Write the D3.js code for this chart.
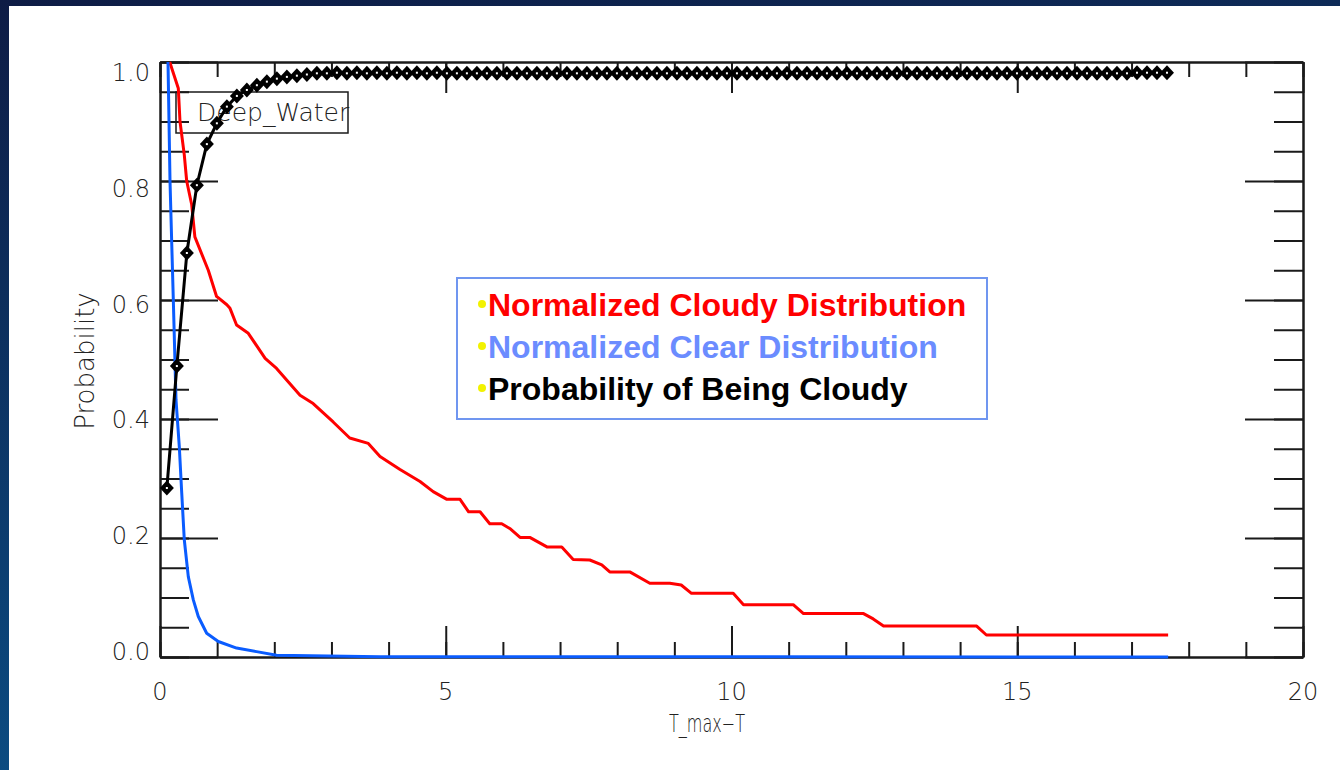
<!DOCTYPE html>
<html>
<head>
<meta charset="utf-8">
<script src="https://cdn.jsdelivr.net/npm/d3@7"></script>
<style>
  body { margin: 0; overflow: hidden; background: #0b2350; }
</style>
</head>
<body>
<script>
// values
const xMajorTicks = [0, 5, 10, 15, 20];
const xMinorTicks = d3.range(0, 21, 1);
const yMajorTicks = [0, 0.2, 0.4, 0.6, 0.8, 1.0];
const yMinorTicks = d3.range(0, 1.0001, 0.05);
const yTickLabels = ["0.0", "0.2", "0.4", "0.6", "0.8", "1.0"];

// normalized cloudy distribution [T_max-T, value]
const cloudyPts = [
  [0.17, 1.0], [0.32, 0.956], [0.35, 0.9], [0.425, 0.844], [0.467, 0.8], [0.555, 0.76],
  [0.61, 0.706], [0.845, 0.65], [0.99, 0.606], [1.17, 0.592], [1.225, 0.586], [1.34, 0.558],
  [1.545, 0.544], [1.84, 0.502], [2.04, 0.485], [2.45, 0.44], [2.68, 0.426], [3.03, 0.395],
  [3.32, 0.368], [3.645, 0.359], [3.85, 0.337], [4.2, 0.315], [4.55, 0.295], [4.78, 0.278],
  [5.02, 0.265], [5.25, 0.265], [5.40, 0.244], [5.6, 0.244], [5.77, 0.224], [5.98, 0.224],
  [6.12, 0.216], [6.3, 0.201], [6.47, 0.201], [6.77, 0.185], [7.03, 0.185], [7.23, 0.164],
  [7.52, 0.163], [7.73, 0.155], [7.87, 0.143], [8.22, 0.143], [8.57, 0.124], [8.92, 0.124],
  [9.12, 0.121], [9.30, 0.107], [10.03, 0.107], [10.21, 0.088], [11.08, 0.088], [11.26, 0.073],
  [12.31, 0.073], [12.48, 0.064], [12.66, 0.052], [14.29, 0.052], [14.46, 0.037], [17.64, 0.037]
];

// normalized clear distribution
const clearPts = [
  [0.14, 1.0], [0.175, 0.8], [0.233, 0.6], [0.28, 0.432], [0.338, 0.353], [0.38, 0.276],
  [0.425, 0.197], [0.495, 0.135], [0.583, 0.096], [0.67, 0.068], [0.817, 0.04], [1.02, 0.026],
  [1.34, 0.015], [1.69, 0.009], [2.04, 0.003], [3.85, 0.0005], [17.64, 0]
];

// probability of being cloudy, one value per bin
const binStart = 0.12, binStep = 0.175;
const probCloudy = [
  0.284, 0.489, 0.679, 0.793, 0.862, 0.897, 0.925, 0.943, 0.953, 0.961,
  0.967, 0.972, 0.975, 0.977, 0.979, 0.981, 0.981, 0.982, 0.981, 0.982,
  0.981, 0.982, 0.981, 0.982, 0.981, 0.982, 0.981, 0.982, 0.981, 0.981,
  0.981, 0.981, 0.981, 0.981, 0.981, 0.981, 0.981, 0.981, 0.981, 0.981,
  0.981, 0.981, 0.981, 0.981, 0.981, 0.981, 0.981, 0.981, 0.981, 0.981,
  0.981, 0.981, 0.981, 0.981, 0.981, 0.981, 0.981, 0.981, 0.981, 0.981,
  0.981, 0.981, 0.981, 0.981, 0.981, 0.981, 0.981, 0.981, 0.981, 0.981,
  0.981, 0.981, 0.981, 0.981, 0.981, 0.981, 0.981, 0.981, 0.981, 0.981,
  0.981, 0.981, 0.981, 0.981, 0.981, 0.981, 0.981, 0.981, 0.981, 0.981,
  0.981, 0.981, 0.981, 0.981, 0.981, 0.981, 0.981, 0.982, 0.982, 0.982,
  0.982
];

const legendItems = [
  { label: "Normalized Cloudy Distribution", color: "#ff0000" },
  { label: "Normalized Clear Distribution", color: "#6b8cff" },
  { label: "Probability of Being Cloudy", color: "#000000" }
];

const svg = d3.select("body").append("svg")
  .attr("width", 1340)
  .attr("height", 770);

// slide background
const grad = svg.append("defs").append("linearGradient")
  .attr("id", "bg").attr("x1", 0).attr("y1", 0).attr("x2", 0.3).attr("y2", 1);
grad.append("stop").attr("offset", "0%").attr("stop-color", "#0e1c45");
grad.append("stop").attr("offset", "100%").attr("stop-color", "#0b4f86");
svg.append("rect").attr("width", 1340).attr("height", 770).attr("fill", "url(#bg)");
svg.append("rect")
  .attr("x", 9).attr("y", 6)
  .attr("width", 1331).attr("height", 764)
  .attr("fill", "#ffffff");

const x = d3.scaleLinear().domain([0, 20]).range([160, 1303]);
const y = d3.scaleLinear().domain([0, 1]).range([657, 62]);
// the tick labels sit on a slightly tighter scale than the ticks
const yLab = d3.scaleLinear().domain([0, 1]).range([652, 73]);

const axisColor = "#1a1a1a";
function styleAxis(g) {
  g.attr("color", axisColor);
  g.selectAll("text").remove();
  g.selectAll("line, path").attr("stroke-width", 2);
}

// ticks point inwards on all four sides
svg.append("g").attr("transform", `translate(0,${y(0)})`)
  .call(d3.axisBottom(x).tickValues(xMinorTicks).tickSize(-15).tickSizeOuter(0)).call(styleAxis);
svg.append("g").attr("transform", `translate(0,${y(0)})`)
  .call(d3.axisBottom(x).tickValues(xMajorTicks).tickSize(-31).tickSizeOuter(0)).call(styleAxis);
svg.append("g").attr("transform", `translate(0,${y(1)})`)
  .call(d3.axisTop(x).tickValues(xMinorTicks).tickSize(-15).tickSizeOuter(0)).call(styleAxis);
svg.append("g").attr("transform", `translate(0,${y(1)})`)
  .call(d3.axisTop(x).tickValues(xMajorTicks).tickSize(-31).tickSizeOuter(0)).call(styleAxis);
svg.append("g").attr("transform", `translate(${x(0)},0)`)
  .call(d3.axisLeft(y).tickValues(yMinorTicks).tickSize(-29).tickSizeOuter(0)).call(styleAxis);
svg.append("g").attr("transform", `translate(${x(0)},0)`)
  .call(d3.axisLeft(y).tickValues(yMajorTicks).tickSize(-58).tickSizeOuter(0)).call(styleAxis);
svg.append("g").attr("transform", `translate(${x(20)},0)`)
  .call(d3.axisRight(y).tickValues(yMinorTicks).tickSize(-29).tickSizeOuter(0)).call(styleAxis);
svg.append("g").attr("transform", `translate(${x(20)},0)`)
  .call(d3.axisRight(y).tickValues(yMajorTicks).tickSize(-58).tickSizeOuter(0)).call(styleAxis);

const labelFont = "'DejaVu Sans', sans-serif";

// tick labels
svg.append("g").selectAll("text")
  .data(xMajorTicks)
  .join("text")
  .attr("x", d => x(d))
  .attr("y", y(0) + 35)
  .attr("text-anchor", "middle")
  .attr("dominant-baseline", "central")
  .attr("font-family", labelFont)
  .attr("font-weight", 200)
  .attr("font-size", 24)
  .attr("fill", "#222")
  .text(d => d);

svg.append("g").selectAll("text")
  .data(yMajorTicks)
  .join("text")
  .attr("x", x(0) - 10)
  .attr("y", d => yLab(d))
  .attr("text-anchor", "end")
  .attr("dominant-baseline", "central")
  .attr("font-family", labelFont)
  .attr("font-weight", 200)
  .attr("font-size", 24)
  .attr("fill", "#222")
  .text((d, i) => yTickLabels[i]);

// axis titles
svg.append("text")
  .attr("x", 707)
  .attr("y", 732)
  .attr("text-anchor", "middle")
  .attr("font-family", labelFont)
  .attr("font-weight", 200)
  .attr("font-size", 25)
  .attr("fill", "#222")
  .attr("textLength", 76)
  .attr("lengthAdjust", "spacingAndGlyphs")
  .text("T_max\u2212T");

svg.append("text")
  .attr("transform", "translate(94,361) rotate(-90)")
  .attr("text-anchor", "middle")
  .attr("font-family", labelFont)
  .attr("font-weight", 200)
  .attr("font-size", 26)
  .attr("fill", "#222")
  .text("Probability");

// surface type tag inside the plot
svg.append("rect")
  .attr("x", 176).attr("y", 92)
  .attr("width", 172).attr("height", 41)
  .attr("fill", "none")
  .attr("stroke", axisColor)
  .attr("stroke-width", 1.5);
svg.append("text")
  .attr("x", 197).attr("y", 121)
  .attr("font-family", labelFont)
  .attr("font-weight", 200)
  .attr("font-size", 25)
  .attr("fill", "#222")
  .text("Deep_Water");

// curves
const line = d3.line().x(d => x(d[0])).y(d => y(d[1]));

svg.append("path")
  .datum(cloudyPts)
  .attr("d", line)
  .attr("fill", "none")
  .attr("stroke", "#ff0000")
  .attr("stroke-width", 3)
  .attr("stroke-linejoin", "round");

svg.append("path")
  .datum(clearPts)
  .attr("d", line)
  .attr("fill", "none")
  .attr("stroke", "#0a5cff")
  .attr("stroke-width", 3)
  .attr("stroke-linejoin", "round");

const probPts = probCloudy.map((v, i) => [binStart + i * binStep, v]);

svg.append("path")
  .datum(probPts)
  .attr("d", line)
  .attr("fill", "none")
  .attr("stroke", "#000")
  .attr("stroke-width", 3);

const marks = svg.append("g").selectAll("g")
  .data(probPts)
  .join("g")
  .attr("transform", d => `translate(${x(d[0])},${y(d[1])})`);
marks.append("path")
  .attr("d", "M0,-7.5L7,0L0,7.5L-7,0Z")
  .attr("fill", "#000");
marks.append("rect")
  .attr("x", -1).attr("y", -1)
  .attr("width", 2).attr("height", 2)
  .attr("fill", "#fff");

// slide legend box
const legend = svg.append("g");
legend.append("rect")
  .attr("x", 457).attr("y", 278)
  .attr("width", 530).attr("height", 141)
  .attr("fill", "#fff")
  .attr("stroke", "#7096f0")
  .attr("stroke-width", 2);

const rowY = (d, i) => 316 + i * 42;
legend.selectAll("circle")
  .data(legendItems)
  .join("circle")
  .attr("cx", 482)
  .attr("cy", (d, i) => rowY(d, i) - 12)
  .attr("r", 4)
  .attr("fill", "#f2f200");

legend.selectAll("text")
  .data(legendItems)
  .join("text")
  .attr("x", 488)
  .attr("y", rowY)
  .attr("font-family", "'Liberation Sans', Arial, sans-serif")
  .attr("font-weight", "bold")
  .attr("font-size", 32)
  .attr("fill", d => d.color)
  .text(d => d.label);
</script>
</body>
</html>
